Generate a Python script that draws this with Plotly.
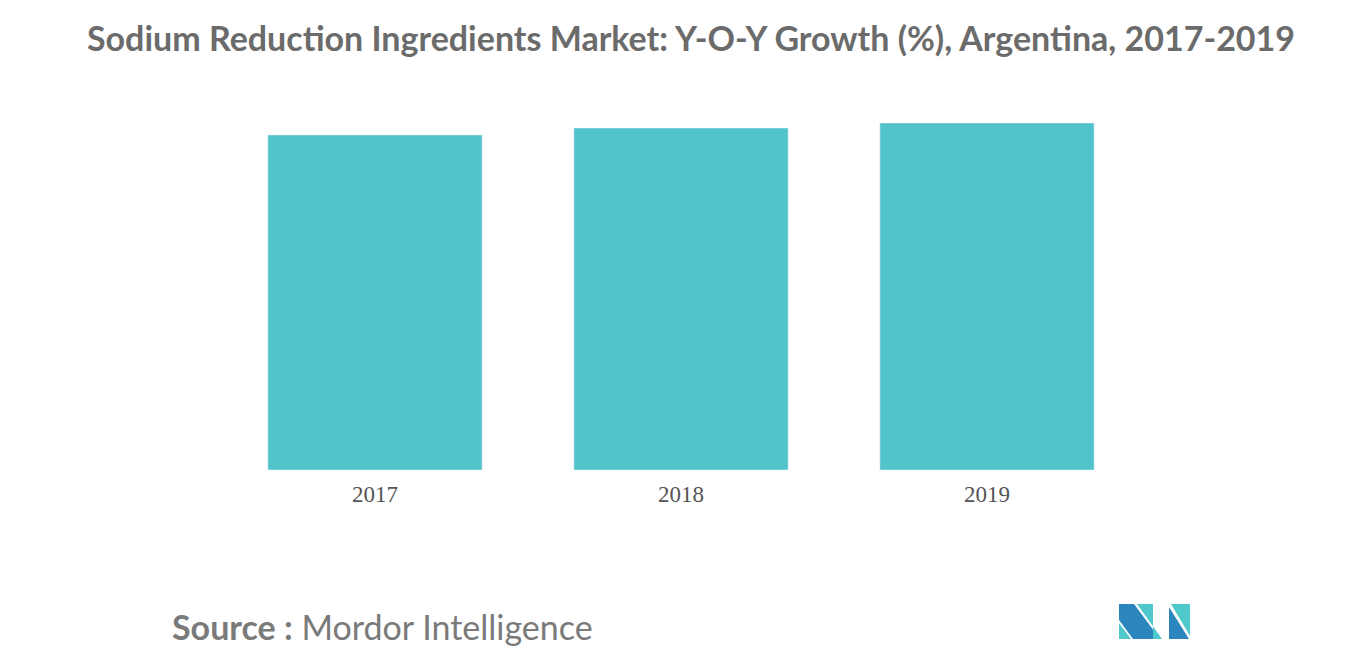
import plotly.graph_objects as go

# data
years = ["2017", "2018", "2019"]
growth = [3.35, 3.42, 3.47]

fig = go.Figure()
fig.add_trace(go.Bar(x=years, y=growth, marker_color="#50C4CA", width=0.7))

fig.update_layout(
    width=1366, height=655,
    margin=dict(l=214, r=234, t=102, b=193),
    plot_bgcolor="white", paper_bgcolor="white",
    showlegend=False,
    title=dict(text="<b>Sodium Reduction Ingredients Market: Y-O-Y Growth (%), Argentina, 2017-2019</b>",
               x=0.5, xanchor="center", y=0.952, yanchor="middle",
               font=dict(family="Lato", size=34, color="#6b6b6b")),
    xaxis=dict(showline=False, ticks="", ticklabelstandoff=8,
               tickfont=dict(family="Liberation Serif", size=23, color="#555")),
    yaxis=dict(visible=False, range=[0, 3.6]),
)

fig.add_annotation(xref="paper", yref="paper", x=-0.057, y=-0.435, xanchor="left", yanchor="middle",
                   showarrow=False,
                   text="<b>Source :</b> Mordor Intelligence",
                   font=dict(family="Lato", size=34, color="#7a7a7a"))

# logo, pixel offsets from the plot's bottom-left corner (x right, y up)
dark = "#2a86bd"
teal = "#4fc8cc"
ox, oy = 222, 470
logo = [
    ([(1119, 604), (1134, 604), (1160, 639), (1133, 639), (1119, 620)], dark),
    ([(1119, 623), (1119, 639), (1131, 639)], teal),
    ([(1137, 604), (1153, 604), (1153, 639), (1162, 639)], teal),
    ([(1169, 607), (1169, 639), (1189, 639)], dark),
    ([(1171, 604), (1190, 604), (1190, 636)], teal),
]
for pts, col in logo:
    path = "M " + " L ".join(f"{px - ox} {oy - py}" for px, py in pts) + " Z"
    fig.add_shape(type="path", xref="paper", yref="paper", xsizemode="pixel", ysizemode="pixel",
                  xanchor=0, yanchor=0, path=path, fillcolor=col, line_width=0, layer="above")

fig.write_html("out.html")
